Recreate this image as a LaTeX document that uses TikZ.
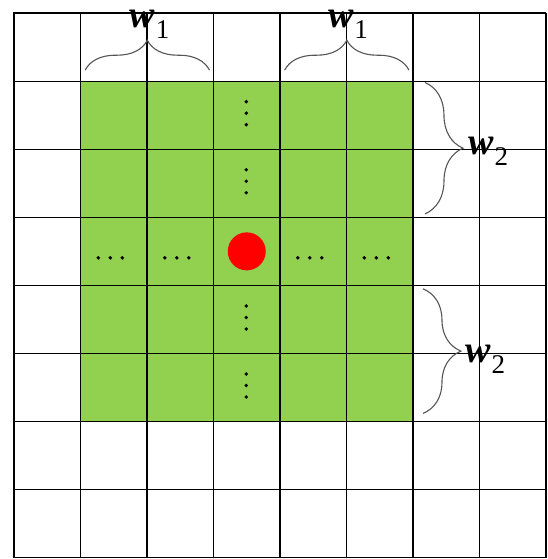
\documentclass[tikz,border=0pt]{standalone}
\usepackage{fontspec}
\newfontfamily\labelfont{Liberation Serif}
\usepackage{xcolor}
\usepackage{tikz}
\usetikzlibrary{decorations.pathreplacing,calc}

\definecolor{cellgreen}{RGB}{146,208,80}
\definecolor{bracegray}{RGB}{85,85,85}

% window size label: italic w with a lowered index
\newcommand{\wlab}[1]{{\fontsize{38}{40}\selectfont\bfseries\itshape w}\kern1pt\raisebox{-11pt}{\fontsize{27}{28}\selectfont #1}}

\begin{document}
\begin{tikzpicture}[
                x=66.5pt, y=-68.1pt,
                gridline/.style={black, line width=1.1pt},
                outerline/.style={black, line width=2.8pt},
                windowfill/.style={fill=cellgreen},
                bracepath/.style={decorate, decoration={brace, amplitude=#1}, bracegray, line width=1.1pt},
                wlabel/.style={font=\labelfont, inner sep=0pt, anchor=base west},
                dotmark/.style={fill=black}
            ]
                \useasboundingbox ($(0,0)+(-14pt,13pt)$) rectangle ($(8,8)+(1pt,-1.2pt)$);

                % Window around the centre cell
                \fill[windowfill] (1,1) rectangle (6,6);

                % Cell grid (8 x 8)
                \foreach \i in {0,...,8} {
                    \draw[gridline] (\i,0) -- (\i,8);
                    \draw[gridline] (0,\i) -- (8,\i);
                }
                \draw[outerline] (0,8) -- (0,0) -- (8,0);

                % Centre cell
                \node[circle, fill=red, minimum size=38pt, inner sep=0pt] (centre) at (3.5,3.5) {};

                % Vertical dots in the centre column
                \foreach \r in {1,2,4,5}
                    \foreach \k in {0,11.5,23}
                        \fill[dotmark] ($(3.5,\r+0.5)+(-0.5pt,13.5pt-\k pt)$) circle (1.9pt);

                % Horizontal dots in the centre row
                \foreach \c in {1,2,4,5}
                    \foreach \k in {0,12,24}
                        \fill[dotmark] ($(\c+0.5,3.5)+(-15.5pt+\k pt,-6.5pt)$) circle (1.9pt);

                % Brace end points
                \coordinate (ta1) at (1.07,0.84);
                \coordinate (tb1) at (2.94,0.84);
                \coordinate (ta2) at (4.07,0.84);
                \coordinate (tb2) at (5.94,0.84);
                \coordinate (ra1) at (6.18,1.02);
                \coordinate (rb1) at (6.18,2.95);
                \coordinate (ra2) at (6.15,4.05);
                \coordinate (rb2) at (6.15,5.88);

                % Horizontal half widths
                \draw[bracepath=30pt] (ta1) -- (tb1);
                \draw[bracepath=30pt] (ta2) -- (tb2);
                \node[wlabel] (w1a) at ($(ta1)!0.5!(tb1)+(-18pt,43pt)$) {\wlab{1}};
                \node[wlabel] (w1b) at ($(ta2)!0.5!(tb2)+(-19pt,43pt)$) {\wlab{1}};

                % Vertical half widths
                \draw[bracepath=38pt] (ra1) -- (rb1);
                \draw[bracepath=38pt] (ra2) -- (rb2);
                \node[wlabel] (w2a) at ($(ra1)!0.5!(rb1)+(43pt,-6.5pt)$) {\wlab{2}};
                \node[wlabel] (w2b) at ($(ra2)!0.5!(rb2)+(42pt,-11pt)$) {\wlab{2}};
            \end{tikzpicture}
\end{document}
